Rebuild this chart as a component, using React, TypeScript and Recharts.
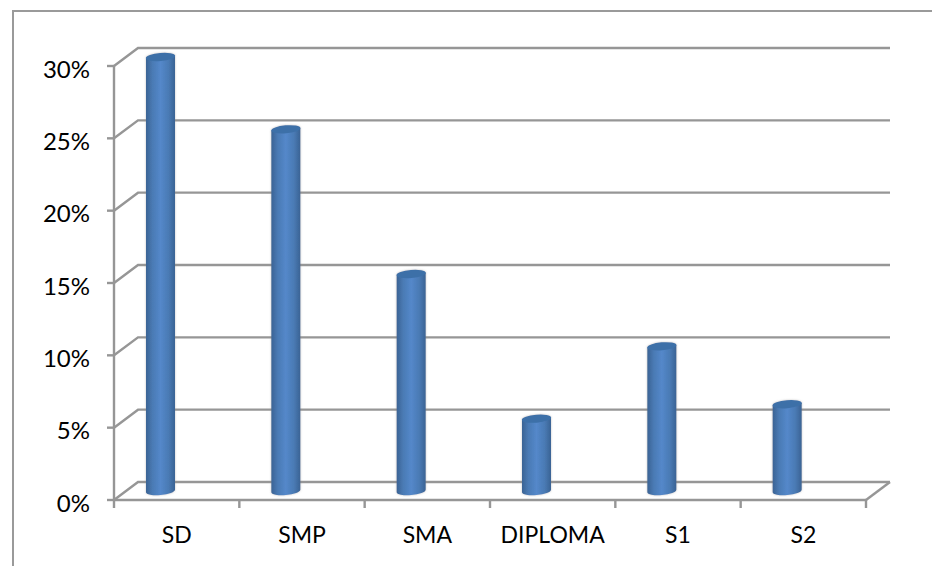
import { BarChart, Bar, XAxis, YAxis, CartesianGrid } from 'recharts';

const categories = ['SD', 'SMP', 'SMA', 'DIPLOMA', 'S1', 'S2'];
const percentages = [30, 25, 15, 5, 10, 6];
const yTicks = [0, 5, 10, 15, 20, 25, 30];

const chartData = categories.map((name, i) => ({ name, value: percentages[i] }));

const AXIS = '#969696';
// the 3d look: back wall sits up and to the right of the axes
const WALL_DX = 24;
const WALL_DY = -18;

function WallLine({ x1, y1, x2 }: any) {
  const backY = y1 + WALL_DY;
  return (
    <g fill="none" stroke={AXIS} strokeWidth={2.4}>
      <path d={`M${x1},${y1} L${x1 + WALL_DX},${backY} L${x2 + WALL_DX},${backY}`} />
      {y1 > 490 && <path d={`M${x2},${y1} L${x2 + WALL_DX},${backY}`} />}
    </g>
  );
}

function Cylinder({ x, y, width, height }: any) {
  const left = x - 16;
  const top = y - 9;
  const rx = width / 2;
  const ry = 4;
  const tilt = 1.2;
  const cx = left + rx;
  const bottom = top + height;
  const right = left + width;
  return (
    <g filter="url(#barShadow)">
      <path
        d={`M${left},${top + tilt} L${left},${bottom + tilt} A${rx},${ry} -5 0 0 ${right},${bottom - tilt} L${right},${top - tilt} Z`}
        fill="url(#barBody)"
      />
      <ellipse cx={cx} cy={top} rx={rx + 0.2} ry={ry} fill="#3d70a8" transform={`rotate(-5 ${cx} ${top})`} />
    </g>
  );
}

function CategoryTick({ x, y, payload, width }: any) {
  const band = width / categories.length;
  const isLast = payload.index === categories.length - 1;
  return (
    <g>
      <line x1={x - band / 2} y1={y - 8} x2={x - band / 2} y2={y} stroke={AXIS} strokeWidth={2.4} />
      {isLast && <line x1={x + band / 2} y1={y - 8} x2={x + band / 2} y2={y} stroke={AXIS} strokeWidth={2.4} />}
      <text x={x} y={y + 35} textAnchor="middle" fontSize={23} fill="#000">
        {payload.value}
      </text>
    </g>
  );
}

export default function App() {
  return (
    <div
      style={{
        position: 'absolute',
        left: 0,
        top: 0,
        width: 932,
        height: 566,
        overflow: 'hidden',
        background: '#fff',
        fontFamily: 'Lato, sans-serif',
      }}
    >
      <div
        style={{
          position: 'absolute',
          left: 12,
          top: 10,
          width: 930,
          height: 600,
          borderTop: '2.5px solid #9a9a9a',
          borderLeft: '2.5px solid #9a9a9a',
        }}
      />
      <BarChart
        width={932}
        height={566}
        data={chartData}
        margin={{ top: 66, right: 66, bottom: 0, left: 50 }}
        style={{ position: 'absolute', left: 0, top: 0 }}
      >
        <defs>
          <linearGradient id="barBody" x1="0" y1="0" x2="1" y2="0">
            <stop offset="0%" stopColor="#3a6394" />
            <stop offset="22%" stopColor="#4a7ab4" />
            <stop offset="50%" stopColor="#5488ca" />
            <stop offset="78%" stopColor="#4a7ab4" />
            <stop offset="100%" stopColor="#3a6394" />
          </linearGradient>
          <filter id="barShadow" x="-20%" y="-5%" width="140%" height="110%">
            <feDropShadow dx="0" dy="0" stdDeviation="1" floodColor="#888" floodOpacity="0.5" />
          </filter>
        </defs>
        <CartesianGrid vertical={false} horizontal={(props: any) => <WallLine key={props.y1} {...props} />} />
        <XAxis
          dataKey="name"
          interval={0}
          height={66}
          axisLine={{ stroke: AXIS, strokeWidth: 2.4 }}
          tickLine={false}
          tick={(props: any) => <CategoryTick {...props} />}
        />
        <YAxis
          width={64}
          domain={[0, 30]}
          ticks={yTicks}
          interval={0}
          tickFormatter={(v: number) => `${v}%`}
          axisLine={{ stroke: AXIS, strokeWidth: 2.4 }}
          tickLine={{ stroke: AXIS, strokeWidth: 2.4 }}
          tickSize={7}
          tickMargin={17}
          tick={{ fontSize: 24, fill: '#000', dy: 3 }}
        />
        <Bar dataKey="value" barSize={29} isAnimationActive={false} shape={(props: any) => <Cylinder {...props} />} />
      </BarChart>
    </div>
  );
}
